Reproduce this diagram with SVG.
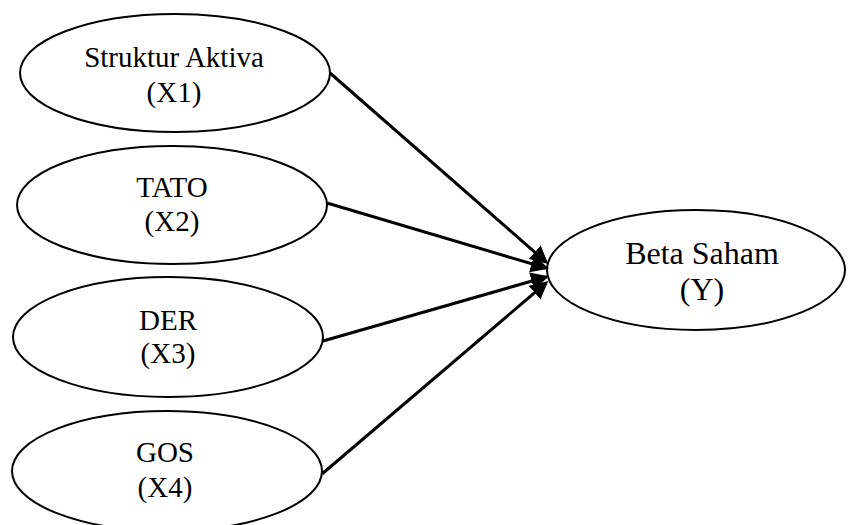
<svg xmlns="http://www.w3.org/2000/svg" width="848" height="525" viewBox="0 0 848 525">
<style>
.n{fill:#fff;stroke:#000;stroke-width:2}
text{font-family:'Liberation Serif','Times New Roman',Times,'DejaVu Serif',serif;font-size:29px;fill:#000;text-anchor:middle}
.b{font-size:32px}
.c line{stroke:#000;stroke-width:3}
</style>
<defs>
<marker id="a" markerWidth="6" markerHeight="6" refX="5" refY="3" orient="auto" markerUnits="strokeWidth">
<path d="M0,0 L6,3 L0,6 z" fill="#000"/>
</marker>
</defs>
<rect width="848" height="525" fill="#fff"/>
<g id="x1"><ellipse class="n" cx="175" cy="73" rx="155" ry="59"/><text x="174" y="67">Struktur Aktiva</text><text x="174" y="102">(X1)</text></g>
<g id="x2"><ellipse class="n" cx="172" cy="205" rx="155" ry="59"/><text x="172" y="197">TATO</text><text x="172" y="231">(X2)</text></g>
<g id="x3"><ellipse class="n" cx="168" cy="337" rx="155" ry="60"/><text x="168" y="330">DER</text><text x="168" y="363">(X3)</text></g>
<g id="x4"><ellipse class="n" cx="167" cy="471" rx="155" ry="60"/><text x="165" y="462">GOS</text><text x="165" y="497">(X4)</text></g>
<g id="y"><ellipse class="n" cx="696" cy="270" rx="149" ry="60"/><text class="b" x="702" y="264">Beta Saham</text><text class="b" x="702" y="300">(Y)</text></g>
<g class="c">
<line x1="330" y1="73" x2="546" y2="262" marker-end="url(#a)"/>
<line x1="327" y1="203" x2="546" y2="268" marker-end="url(#a)"/>
<line x1="323" y1="341" x2="546" y2="277" marker-end="url(#a)"/>
<line x1="322" y1="474" x2="546" y2="283" marker-end="url(#a)"/>
</g>
</svg>
